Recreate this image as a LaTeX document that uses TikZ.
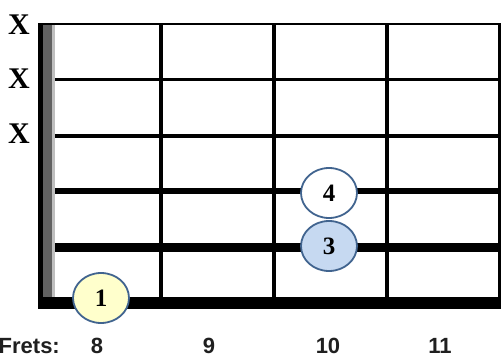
\documentclass[tikz,border=0pt]{standalone}
\usepackage{fontspec}
\setmainfont{Liberation Serif}
\newfontfamily\fretfont{Liberation Sans}
\usetikzlibrary{shapes.geometric}
\definecolor{fingerline}{HTML}{41648F}
\definecolor{fingeryellow}{HTML}{FFFFCC}
\definecolor{fingerblue}{HTML}{C6D9F1}

\begin{document}
\begin{tikzpicture}[x=1pt,y=-1pt,
  finger/.style={ellipse,draw=fingerline,line width=1.8pt,minimum width=56pt,
    minimum height=50pt,inner sep=0pt,font=\fontsize{25}{25}\selectfont\bfseries},
  mute/.style={font=\fontsize{30}{30}\selectfont\bfseries,inner sep=0pt},
  fretlabel/.style={font=\fretfont\fontsize{22}{22}\selectfont\bfseries,text=black!88}]
  \useasboundingbox (0,0) rectangle (501,358);

  % nut
  \fill[black] (38,22.6) rectangle (43,309);
  \fill[black!62] (43,25) rectangle (51.7,297);
  \fill[black!25] (51.7,25) rectangle (55,297);

  % strings, thin to thick
  \draw[line width=2.7pt] (38,24) -- (501,24);
  \foreach \y/\w in {79.8/3.3,135.6/4,191.4/6,247.2/8.7}{
    \draw[line width=\w pt] (55,\y) -- (501,\y);
  }
  \fill[black] (38,297) rectangle (501,309);

  % frets
  \foreach \x in {161,274,387}{
    \draw[line width=4pt] (\x,24) -- (\x,303);
  }
  \draw[line width=3.5pt] (499.5,24) -- (499.5,303);

  % muted strings
  \node[mute] (muteone) at (19,25) {X};
  \node[mute] (mutetwo) at (19,79) {X};
  \node[mute] (mutethree) at (19,134) {X};

  % fingers
  \node[finger,fill=fingeryellow] (fingerone) at (101,298) {1};
  \node[finger,fill=white] (fingerfour) at (329,193) {4};
  \node[finger,fill=fingerblue] (fingerthree) at (329,246) {3};

  % fret numbers
  \node[fretlabel,anchor=west,inner sep=0pt] (fretsword) at (-1.5,346) {Frets:};
  \node[fretlabel] (freteight) at (97,346) {8};
  \node[fretlabel] (fretnine) at (209,346) {9};
  \node[fretlabel] (fretten) at (328,346) {10};
  \node[fretlabel] (freteleven) at (440,346) {11};
\end{tikzpicture}
\end{document}
